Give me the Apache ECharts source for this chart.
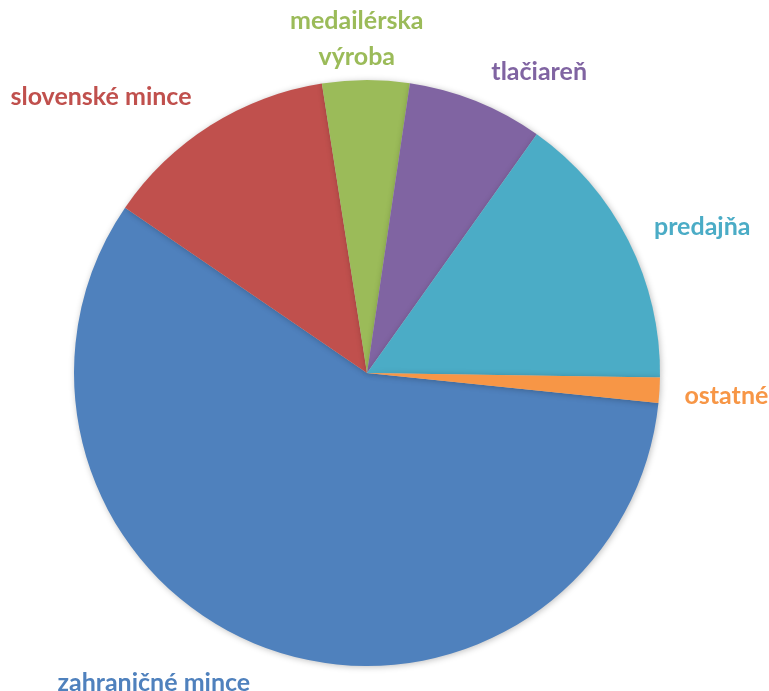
<!DOCTYPE html>
<html>
<head>
<meta charset="utf-8">
<script src="https://cdn.jsdelivr.net/npm/echarts@6/dist/echarts.min.js"></script>
<style>html,body{margin:0;padding:0;background:#fff}#c{width:769px;height:691px}</style>
</head>
<body>
<div id="c"></div>
<script>
const categories = ['zahraničné mince', 'slovenské mince', 'medailérska\nvýroba', 'tlačiareň', 'predajňa', 'ostatné'];
const values = [57.9, 13.0, 4.8, 7.5, 15.4, 1.4];
const colors = ['#4F81BD', '#C0504D', '#9BBB59', '#8064A2', '#4BACC6', '#F79646'];

const chart = echarts.init(document.getElementById('c'));
chart.setOption({
  animation: false,
  series: [{
    type: 'pie',
    center: [367, 373],
    radius: 293,
    startAngle: -5.9,
    clockwise: true,
    avoidLabelOverlap: false,
    data: categories.map((n, i) => ({
      name: n, value: values[i],
      itemStyle: { color: colors[i] },
      label: { color: colors[i] }
    })),
    itemStyle: { shadowBlur: 6, shadowColor: 'rgba(0,0,0,0.25)', shadowOffsetX: 1, shadowOffsetY: 1 },
    label: {
      show: true, position: 'outside',
      fontFamily: 'Lato', fontWeight: 'bold', fontSize: 25, lineHeight: 36
    },
    labelLine: { show: false, length: 32, length2: 0 },
    labelLayout: function (p) {
      switch (p.dataIndex) {
        case 0: return { dy: 5 };
        case 1: return { dx: 3, dy: -1 };
        case 2: return { align: 'center', dx: -4, dy: -9 };
        case 3: return { dx: -2 };
        case 4: return { dx: -8, dy: 1 };
        case 5: return { dx: -12, dy: 4 };
      }
      return {};
    }
  }]
});
</script>
</body>
</html>
